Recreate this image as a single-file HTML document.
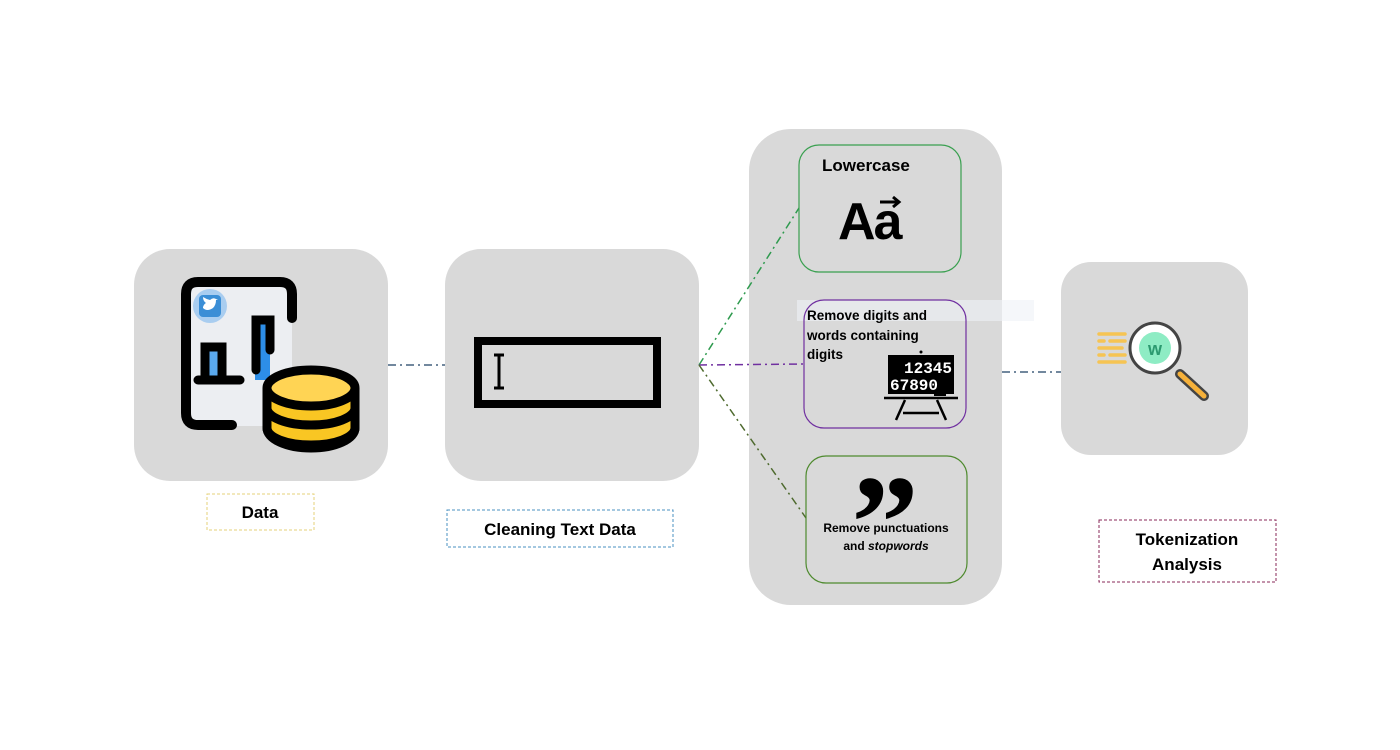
<!DOCTYPE html>
<html><head><style>
html,body{margin:0;padding:0;background:#fff;}
svg{display:block;font-family:"Liberation Sans",sans-serif;}
</style></head><body>
<svg width="1400" height="750" viewBox="0 0 1400 750" xmlns="http://www.w3.org/2000/svg">
<rect x="134" y="249" width="254" height="232" rx="36" fill="#d9d9d9"/>
<rect x="445" y="249" width="254" height="232" rx="36" fill="#d9d9d9"/>
<rect x="749" y="129" width="253" height="476" rx="42" fill="#d9d9d9"/>
<rect x="1061" y="262" width="187" height="193" rx="30" fill="#d9d9d9"/>

<g fill="none" stroke-width="1.5" stroke-dasharray="8,4,2,4">
<line x1="388" y1="365" x2="445" y2="365" stroke="#44607f"/>
<line x1="699" y1="365" x2="799" y2="208" stroke="#2e9a4e"/>
<line x1="699" y1="365" x2="804" y2="364" stroke="#7030a0"/>
<line x1="699" y1="365" x2="806" y2="518" stroke="#4e6a2e"/>
<line x1="1002" y1="372" x2="1061" y2="372" stroke="#44607f"/>
</g>

<rect x="186" y="282" width="106" height="144" rx="6" fill="#eceef2"/>
<path d="M232 425 H198 Q186 425 186 413 V294 Q186 282 198 282 H280 Q292 282 292 294 V318" fill="none" stroke="#000" stroke-width="10" stroke-linecap="round"/>
<circle cx="210" cy="306" r="17" fill="#a9cdf0"/>
<rect x="199" y="295" width="22" height="22" rx="4" fill="#3b8ed6"/>
<path d="M203 308 q4 4 10 0 q3 -3 3 -8 l2 -1 l-2 0 q-3 -2 -6 1 q-4 -1 -7 -3 q0 4 3 6 q-2 1 -3 4z" fill="#fff"/>
<rect x="205" y="345" width="16" height="32" fill="#5aa9ee"/>
<rect x="255" y="318" width="15" height="62" fill="#2d8ee8"/>
<path d="M205 378 V347 H222 V378 M198 380 H240 M256 370 V320 H270 V350" fill="none" stroke="#000" stroke-width="9" stroke-linecap="round"/>
<g stroke="#000" stroke-width="9">
<path d="M267 388 V428 A44 20 0 0 0 355 428 V388" fill="#f9c623"/>
<path d="M267 408 A44 17 0 0 0 355 408" fill="none"/>
<path d="M267 428 A44 17 0 0 0 355 428" fill="none"/>
<ellipse cx="311" cy="388" rx="44" ry="18" fill="#ffd454"/>
</g>

<rect x="478" y="341" width="179" height="63" fill="none" stroke="#000" stroke-width="8"/>
<path d="M494 355 H504 M499 355 V388 M494 388 H504" stroke="#000" stroke-width="3"/>

<rect x="799" y="145" width="162" height="127" rx="20" fill="#d9d9d9" stroke="#3aa050" stroke-width="1.2"/>
<text x="822" y="171" font-size="17" font-weight="bold" fill="#000">Lowercase</text>
<text x="838" y="239" font-size="52" font-weight="bold" fill="#000" letter-spacing="-2">Aa</text>
<path d="M880 202 H898 M893 197 L899 202 L893 207" fill="none" stroke="#000" stroke-width="3"/>

<rect x="797" y="300" width="237" height="21" fill="#eef2f6" opacity="0.6"/>
<rect x="804" y="300" width="162" height="128" rx="20" fill="none" stroke="#7030a0" stroke-width="1.2"/>
<text font-size="13.5" font-weight="bold" fill="#000"><tspan x="807" y="320">Remove digits and</tspan><tspan x="807" y="340">words containing</tspan><tspan x="807" y="359">digits</tspan></text>
<circle cx="921" cy="352" r="1.5" fill="#000"/>
<rect x="888" y="355" width="66" height="39" fill="#000"/>
<text x="952" y="373" font-size="16" fill="#fff" text-anchor="end" font-family="Liberation Mono,monospace" font-weight="bold">12345</text>
<text x="890" y="390" font-size="16" fill="#fff" font-family="Liberation Mono,monospace" font-weight="bold">67890</text>
<rect x="934" y="391" width="12" height="5" fill="#000"/>
<path d="M884 398 H958 M905 400 L896 420 M937 400 L946 420 M903 413 H939" stroke="#000" stroke-width="2.5"/>

<rect x="806" y="456" width="161" height="127" rx="20" fill="none" stroke="#4e8a2e" stroke-width="1.2"/>
<text x="885" y="568" font-size="135" font-weight="bold" text-anchor="middle" font-family="Liberation Serif,serif" fill="#000">”</text>
<text font-size="12" font-weight="bold" fill="#000" text-anchor="middle"><tspan x="886" y="532">Remove punctuations</tspan><tspan x="886" y="550">and <tspan font-style="italic">stopwords</tspan></tspan></text>

<g stroke="#f6c453" stroke-width="3.5" stroke-linecap="round">
<path d="M1099 334 H1125 M1099 341 H1104 M1110 341 H1125 M1099 348 H1122 M1099 355 H1104 M1110 355 H1125 M1099 362 H1125"/>
</g>
<line x1="1180" y1="374" x2="1204" y2="396" stroke="#444" stroke-width="10" stroke-linecap="round"/>
<line x1="1180" y1="374" x2="1204" y2="396" stroke="#f6b13a" stroke-width="5" stroke-linecap="round"/>
<circle cx="1155" cy="348" r="25" fill="#fff" stroke="#444" stroke-width="3"/>
<circle cx="1155" cy="348" r="16" fill="#8eecc4"/>
<text x="1155" y="355" font-size="18" font-weight="bold" text-anchor="middle" fill="#2c9a70">w</text>

<rect x="207" y="494" width="107" height="36" fill="none" stroke="#e6d27a" stroke-dasharray="3,2"/>
<text x="260" y="518" font-size="17" font-weight="bold" text-anchor="middle">Data</text>
<rect x="447" y="510" width="226" height="37" fill="none" stroke="#4a90c2" stroke-dasharray="3,2"/>
<text x="560" y="535" font-size="17" font-weight="bold" text-anchor="middle">Cleaning Text Data</text>
<rect x="1099" y="520" width="177" height="62" fill="none" stroke="#8a2a5a" stroke-dasharray="3,2"/>
<text font-size="17" font-weight="bold" text-anchor="middle"><tspan x="1187" y="545">Tokenization</tspan><tspan x="1187" y="570">Analysis</tspan></text>
</svg>
</body></html>
